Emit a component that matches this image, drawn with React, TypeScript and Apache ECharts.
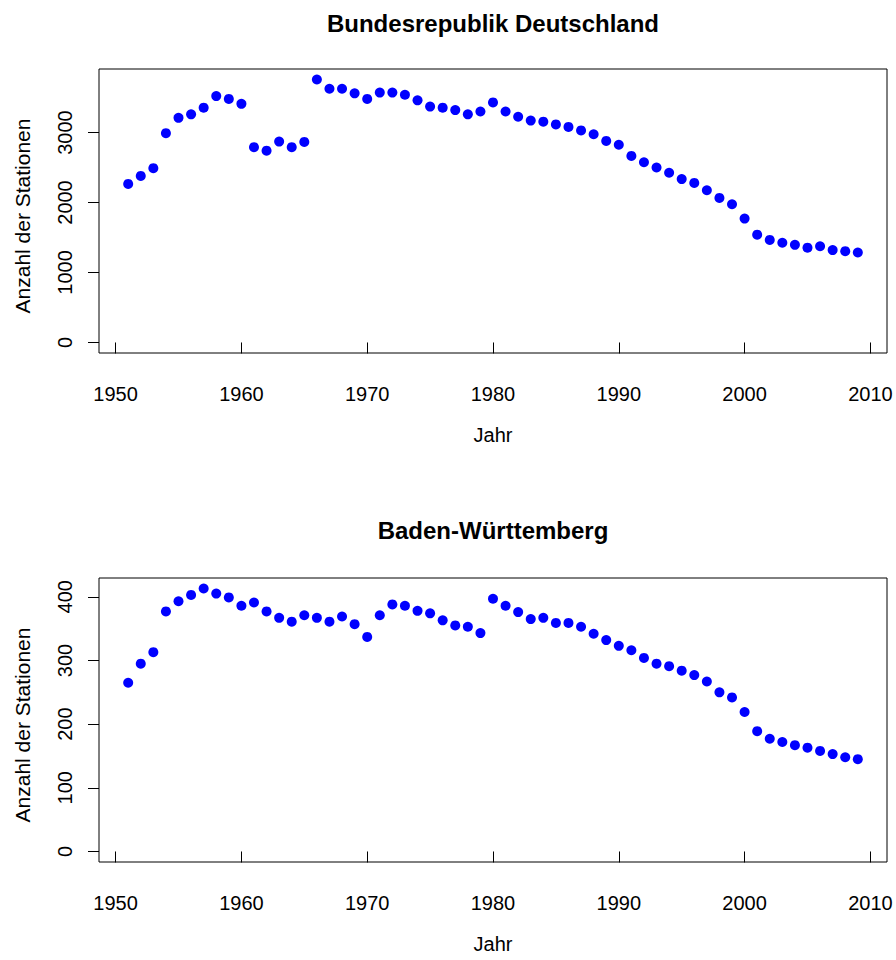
import React, { useEffect, useRef } from "react";
import * as echarts from "echarts";

const years = [
  1951, 1952, 1953, 1954, 1955, 1956, 1957, 1958, 1959, 1960,
  1961, 1962, 1963, 1964, 1965, 1966, 1967, 1968, 1969, 1970,
  1971, 1972, 1973, 1974, 1975, 1976, 1977, 1978, 1979, 1980,
  1981, 1982, 1983, 1984, 1985, 1986, 1987, 1988, 1989, 1990,
  1991, 1992, 1993, 1994, 1995, 1996, 1997, 1998, 1999, 2000,
  2001, 2002, 2003, 2004, 2005, 2006, 2007, 2008, 2009,
];

const brdStations = [
  2265, 2380, 2490, 2990, 3210, 3260, 3355, 3520, 3480, 3410,
  2790, 2740, 2870, 2790, 2865, 3757, 3625, 3625, 3560, 3480,
  3570, 3570, 3540, 3460, 3370, 3355, 3320, 3260, 3300, 3430,
  3300, 3225, 3170, 3155, 3115, 3080, 3030, 2975, 2880, 2825,
  2665, 2575, 2500, 2425, 2335, 2280, 2175, 2065, 1975, 1770,
  1540, 1465, 1425, 1395, 1355, 1375, 1320, 1305, 1285,
];

const bwStations = [
  265, 295, 313, 377, 393, 403, 413, 405, 399, 386,
  391, 377, 367, 361, 371, 367, 361, 369, 357, 337,
  371, 388, 386, 378, 374, 363, 355, 353, 343, 397,
  386, 376, 365, 367, 359, 359, 353, 342, 332, 323,
  316, 304, 295, 291, 284, 277, 267, 250, 242, 219,
  189, 177, 172, 167, 163, 158, 153, 148, 145,
];

const xTicks = [1950, 1960, 1970, 1980, 1990, 2000, 2010];
const brdTicks = [0, 1000, 2000, 3000];
const bwTicks = [0, 100, 200, 300, 400];
const titles = ["Bundesrepublik Deutschland", "Baden-Württemberg"];
const xName = "Jahr";
const yName = "Anzahl der Stationen";

const FONT = "'Liberation Sans', Arial, Helvetica, sans-serif";

function pad4(lo: number, hi: number): [number, number] {
  const d = (hi - lo) * 0.04;
  return [lo - d, hi + d];
}

export default function App() {
  const ref = useRef<HTMLDivElement>(null);

  useEffect(() => {
    if (!ref.current) return;
    const chart = echarts.init(ref.current, undefined, { renderer: "svg" });

    const [xMin, xMax] = pad4(years[0], years[years.length - 1]);
    const [y1Min, y1Max] = pad4(0, Math.max(...brdStations));
    const [y2Min, y2Max] = pad4(0, Math.max(...bwStations));

    const gridTops = [69, 578];
    const labelStyle = { fontFamily: FONT, fontSize: 20, color: "#000", lineHeight: 20 };

    const makeX = (idx: number) => ({
      type: "value",
      gridIndex: idx,
      min: xMin,
      max: xMax,
      axisLine: { show: false },
      splitLine: { show: false },
      axisTick: { show: true, length: 11, lineStyle: { color: "#000", width: 1 }, customValues: xTicks },
      axisLabel: { ...labelStyle, margin: 31, customValues: xTicks, formatter: (v: number) => String(v) },
      name: xName,
      nameLocation: "middle",
      nameGap: 72,
      nameTextStyle: { ...labelStyle },
    });

    const makeY = (idx: number, min: number, max: number, ticks: number[]) => ({
      type: "value",
      gridIndex: idx,
      min,
      max,
      axisLine: { show: false },
      splitLine: { show: false },
      axisTick: { show: true, length: 11, lineStyle: { color: "#000", width: 1 }, customValues: ticks },
      axisLabel: { ...labelStyle, rotate: 90, margin: 24, customValues: ticks, formatter: (v: number) => String(v) },
      name: yName,
      nameLocation: "middle",
      nameRotate: 90,
      nameGap: 66,
      nameTextStyle: { ...labelStyle, fontSize: 21, lineHeight: 21, padding: [0, 10, 0, 0] },
    });

    const option = {
      animation: false,
      backgroundColor: "#fff",
      title: titles.map((t, i) => ({
        text: t,
        left: 493,
        top: i === 0 ? 11 : 518,
        textAlign: "center",
        padding: 0,
        textStyle: { fontFamily: FONT, fontSize: 24, fontWeight: "bold", color: "#000", lineHeight: 24 },
      })),
      grid: gridTops.map((top) => ({
        left: 99,
        top,
        width: 788,
        height: 284,
        show: true,
        borderColor: "#000",
        borderWidth: 1,
        backgroundColor: "transparent",
        containLabel: false,
      })),
      xAxis: [makeX(0), makeX(1)],
      yAxis: [makeY(0, y1Min, y1Max, brdTicks), makeY(1, y2Min, y2Max, bwTicks)],
      series: [
        {
          type: "scatter",
          xAxisIndex: 0,
          yAxisIndex: 0,
          symbol: "circle",
          symbolSize: 10,
          itemStyle: { color: "#0000ff", opacity: 1 },
          data: years.map((y, i) => [y, brdStations[i]]),
        },
        {
          type: "scatter",
          xAxisIndex: 1,
          yAxisIndex: 1,
          symbol: "circle",
          symbolSize: 10,
          itemStyle: { color: "#0000ff", opacity: 1 },
          data: years.map((y, i) => [y, bwStations[i]]),
        },
      ],
    };

    chart.setOption(option as any);
    return () => chart.dispose();
  }, []);

  return (
    <div
      ref={ref}
      style={{ position: "absolute", left: 0, top: 0, width: 896, height: 960, background: "#fff" }}
    />
  );
}
